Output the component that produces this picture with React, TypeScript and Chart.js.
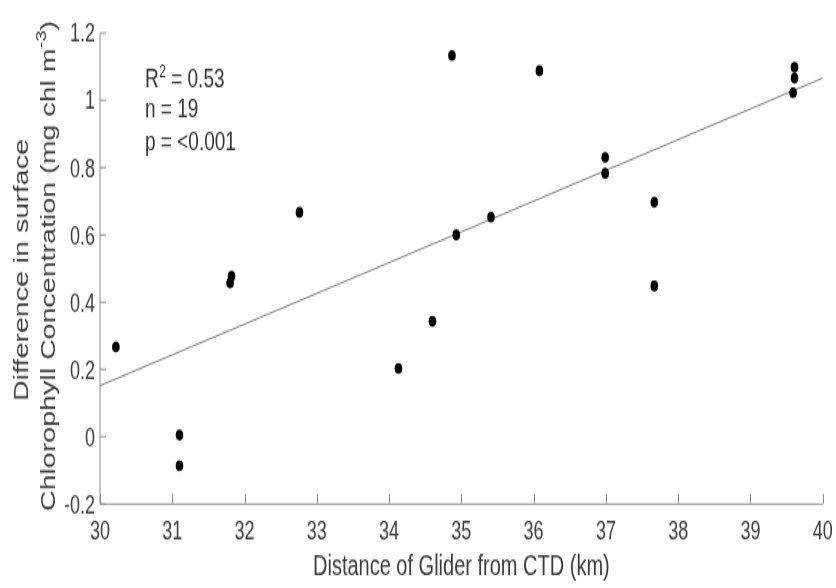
import React, { useEffect, useRef } from "react";
import { Chart, registerables } from "chart.js";

Chart.register(...registerables);

// ---- data ----
const distanceKm = [30.22, 31.1, 31.1, 31.8, 31.82, 32.76, 34.13, 34.6, 34.87, 34.93, 35.41, 36.08, 36.99, 36.99, 37.67, 37.67, 39.61, 39.61, 39.59];
const chlDiff = [0.267, 0.005, -0.086, 0.457, 0.477, 0.667, 0.203, 0.343, 1.133, 0.6, 0.653, 1.088, 0.83, 0.783, 0.697, 0.448, 1.098, 1.066, 1.023];
const fitX = [30, 40];
const fitY = [0.152, 1.066];
const xTickValues = [30, 31, 32, 33, 34, 35, 36, 37, 38, 39, 40];
const xTickLabels = ["30", "31", "32", "33", "34", "35", "36", "37", "38", "39", "40"];
const yTickValues = [-0.2, 0, 0.2, 0.4, 0.6, 0.8, 1, 1.2];
const yTickLabels = ["-0.2", "0", "0.2", "0.4", "0.6", "0.8", "1", "1.2"];
const xTitle = "Distance of Glider from CTD (km)";
const yTitleLine1 = "Difference in surface";
const yTitleLine2 = "Chlorophyll Concentration (mg chl m";
const yTitleSup = "-3";
const yTitleEnd = ")";
const r2Value = "0.53";
const nValue = "19";
const pValue = "<0.001";

// ---- layout (canvas drawn at 836x411, displayed stretched to 836x588) ----
const W = 836;
const H = 411;
const K = 588 / H;
const FONT = '"Liberation Sans", Arial, sans-serif';
const TEXT = "#3c3c3c";
const AXIS = "#8a8a8a";

const overlay = {
  id: "matlabAxes",
  afterDraw(chart: any) {
    const ctx = chart.ctx as CanvasRenderingContext2D;
    const xs = chart.scales.x;
    const ys = chart.scales.y;
    const a = chart.chartArea;
    ctx.save();
    // axis lines
    ctx.strokeStyle = AXIS;
    ctx.lineWidth = 1;
    ctx.beginPath();
    ctx.moveTo(a.left, a.top);
    ctx.lineTo(a.left, a.bottom);
    ctx.lineTo(a.right, a.bottom);
    ctx.stroke();
    // ticks (inward)
    ctx.beginPath();
    xTickValues.forEach((v) => {
      const px = Math.round(xs.getPixelForValue(v)) + 0.5;
      ctx.moveTo(px, a.bottom);
      ctx.lineTo(px, a.bottom - 7);
    });
    yTickValues.forEach((v) => {
      const py = ys.getPixelForValue(v);
      ctx.moveTo(a.left, py);
      ctx.lineTo(a.left + 6, py);
    });
    ctx.stroke();
    // tick labels
    ctx.fillStyle = TEXT;
    ctx.font = `18px ${FONT}`;
    ctx.textBaseline = "alphabetic";
    ctx.textAlign = "center";
    xTickValues.forEach((v, i) => {
      ctx.fillText(xTickLabels[i], xs.getPixelForValue(v), 540 / K);
    });
    ctx.textAlign = "right";
    yTickValues.forEach((v, i) => {
      ctx.fillText(yTickLabels[i], 95, ys.getPixelForValue(v) + 6.4);
    });
    // x title
    ctx.font = `20px ${FONT}`;
    ctx.textAlign = "center";
    ctx.fillText(xTitle, (a.left + a.right) / 2, 575 / K);
    // y title (rotated)
    ctx.save();
    ctx.translate(27.5, 270 / K);
    ctx.rotate(-Math.PI / 2);
    ctx.textAlign = "center";
    ctx.fillText(yTitleLine1, 0, 0);
    ctx.restore();
    ctx.save();
    const mainFont = `20px ${FONT}`;
    const supFont = `14px ${FONT}`;
    ctx.font = mainFont;
    const w1 = ctx.measureText(yTitleLine2).width;
    const w3 = ctx.measureText(yTitleEnd).width;
    ctx.font = supFont;
    const w2 = ctx.measureText(yTitleSup).width;
    const total = w1 + w2 + w3;
    ctx.translate(54.5, 266 / K);
    ctx.rotate(-Math.PI / 2);
    ctx.textAlign = "left";
    let u = -total / 2;
    ctx.font = mainFont;
    ctx.fillText(yTitleLine2, u, 0);
    u += w1;
    ctx.font = supFont;
    ctx.fillText(yTitleSup, u, -9);
    u += w2;
    ctx.font = mainFont;
    ctx.fillText(yTitleEnd, u, 0);
    ctx.restore();
    // stats annotation
    ctx.fillStyle = "#333333";
    ctx.textAlign = "left";
    const sx = 145;
    ctx.font = `19px ${FONT}`;
    ctx.fillText("R", sx, 87 / K);
    const rw = ctx.measureText("R").width;
    ctx.font = `12px ${FONT}`;
    ctx.fillText("2", sx + rw + 0.5, 87 / K - 7);
    const sw = ctx.measureText("2").width;
    ctx.font = `19px ${FONT}`;
    ctx.fillText(` = ${r2Value}`, sx + rw + sw + 0.5, 87 / K);
    ctx.fillText(`n = ${nValue}`, sx, 118 / K);
    ctx.fillText(`p = ${pValue}`, sx, 150 / K);
    ctx.restore();
  },
};

export default function App() {
  const ref = useRef<HTMLCanvasElement | null>(null);
  useEffect(() => {
    if (!ref.current) return;
    const chart = new Chart(ref.current, {
      type: "scatter",
      data: {
        datasets: [
          {
            label: "Observations",
            data: distanceKm.map((x, i) => ({ x, y: chlDiff[i] })),
            backgroundColor: "#000000",
            borderColor: "#000000",
            borderWidth: 0,
            pointRadius: 3.8,
            pointHoverRadius: 3.8,
          },
          {
            label: "Fit",
            data: fitX.map((x, i) => ({ x, y: fitY[i] })),
            showLine: true,
            borderColor: "#7c7c7c",
            borderWidth: 1,
            pointRadius: 0,
            fill: false,
          } as any,
        ],
      },
      options: {
        responsive: false,
        animation: false,
        devicePixelRatio: 1,
        layout: {
          padding: { left: 100, right: W - 822.7, top: 33 / K, bottom: H - 504 / K },
        },
        plugins: {
          legend: { display: false },
          tooltip: { enabled: false },
          title: { display: false },
        },
        scales: {
          x: { type: "linear", display: false, min: 30, max: 40 },
          y: { type: "linear", display: false, min: -0.2, max: 1.2 },
        },
      },
      plugins: [overlay],
    });
    return () => chart.destroy();
  }, []);
  return (
    <div style={{ position: "fixed", left: 0, top: 0, width: W, height: 588, background: "#ffffff" }}>
      <canvas ref={ref} width={W} height={H} style={{ display: "block", width: `${W}px`, height: "588px" }} />
    </div>
  );
}
